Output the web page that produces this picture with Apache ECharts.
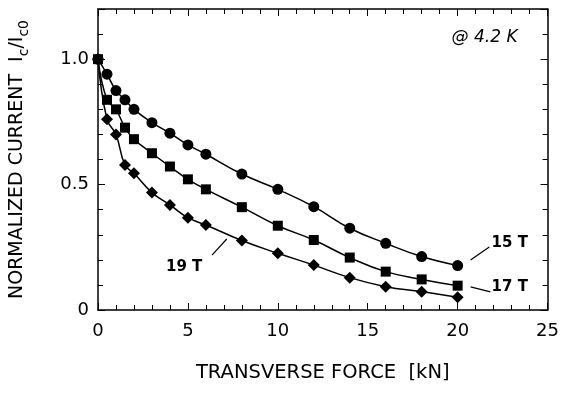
<!DOCTYPE html>
<html><head><meta charset="utf-8">
<script src="https://cdn.jsdelivr.net/npm/echarts@6/dist/echarts.min.js"></script>
<style>html,body{margin:0;padding:0;background:#fff}#c{width:562px;height:394px}</style>
</head><body><div id="c"></div>
<script>
const forces = [0, 0.5, 1, 1.5, 2, 3, 4, 5, 6, 8, 10, 12, 14, 16, 18, 20];
const ic15T = [1.0, 0.94, 0.875, 0.838, 0.80, 0.747, 0.705, 0.658, 0.621, 0.542, 0.481, 0.412, 0.326, 0.266, 0.213, 0.177];
const ic17T = [1.0, 0.838, 0.80, 0.727, 0.681, 0.625, 0.572, 0.521, 0.481, 0.410, 0.336, 0.279, 0.209, 0.153, 0.122, 0.097];
const ic19T = [1.0, 0.76, 0.70, 0.578, 0.545, 0.468, 0.419, 0.368, 0.339, 0.277, 0.226, 0.179, 0.129, 0.093, 0.073, 0.051];
const xTicks = [0, 5, 10, 15, 20, 25];
const yTickLabels = {0: '0', 0.5: '0.5', 1: '1.0'};
// annotation labels [x, y] in data units, and leader segments
const labelTexts = ['15 T', '17 T', '19 T'];
const labelPos = [[22.9, 0.267], [22.9, 0.092], [4.79, 0.172]];
const leaders = [[[20.72, 0.199], [21.76, 0.251]], [[20.72, 0.092], [21.82, 0.072]], [[6.34, 0.219], [7.16, 0.283]]];
const tempText = '@ 4.2 K';
const tempPos = [21.5, 1.085];

const FONT = 'DejaVu Sans, Liberation Sans, Arial, sans-serif';
const pair = (ys) => forces.map((f, i) => [f, ys[i]]);
const curve = (name, ys, sym, size) => ({
  name, type: 'line', data: pair(ys), smooth: 0.45, symbol: sym, symbolSize: size,
  lineStyle: {color: '#000', width: 1.5}, itemStyle: {color: '#000'}, z: 3
});
const series = [
  curve('15 T', ic15T, 'circle', 11),
  curve('17 T', ic17T, 'rect', 10),
  curve('19 T', ic19T, 'diamond', 12)
];
leaders.forEach(seg => series.push({type: 'line', data: seg, symbol: 'none', lineStyle: {color: '#000', width: 1.2}, silent: true}));
series.push({
  type: 'scatter', symbolSize: 0, silent: true, itemStyle: {opacity: 1},
  data: labelPos.map((p, i) => ({value: p, label: {show: true, formatter: labelTexts[i]}})),
  label: {position: 'inside', color: '#000', opacity: 1, fontFamily: FONT, fontSize: 15, fontWeight: 'bold'}
});
series.push({
  type: 'scatter', symbolSize: 0, silent: true, itemStyle: {opacity: 1},
  data: [{value: tempPos, label: {show: true, formatter: tempText}}],
  label: {position: 'inside', color: '#000', opacity: 1, fontFamily: FONT, fontSize: 17, fontStyle: 'italic'}
});

const axLine = {show: true, onZero: false, lineStyle: {color: '#000', width: 1.5}};
const tick = {show: true, inside: true, length: 7, lineStyle: {color: '#000', width: 1}};
const minor = {show: true, splitNumber: 5, length: 5, lineStyle: {color: '#000', width: 1}};
const option = {
  animation: false,
  grid: {left: 96, right: 12, top: 9, bottom: 84, show: false},
  xAxis: [{
    type: 'value', min: 0, max: 25, interval: 5, position: 'bottom',
    axisLine: axLine, splitLine: {show: false}, axisTick: tick, minorTick: minor,
    axisLabel: {color: '#000', fontFamily: FONT, fontSize: 18, margin: 12,
      formatter: v => xTicks.includes(v) ? String(v) : ''},
    name: 'TRANSVERSE FORCE  [kN]', nameLocation: 'middle', nameGap: 53,
    nameTextStyle: {color: '#000', fontFamily: FONT, fontSize: 19.5}
  }, {
    type: 'value', min: 0, max: 25, interval: 5, position: 'top',
    axisLine: axLine, splitLine: {show: false}, axisLabel: {show: false},
    axisTick: tick, minorTick: minor
  }],
  yAxis: [{
    type: 'value', min: 0, max: 1.2, interval: 0.5, position: 'left',
    axisLine: axLine, splitLine: {show: false}, axisTick: tick, minorTick: minor,
    axisLabel: {color: '#000', fontFamily: FONT, fontSize: 18, margin: 9,
      formatter: v => (yTickLabels[v] !== undefined ? yTickLabels[v] : '')},
    name: '{m|NORMALIZED CURRENT  I}{s|c}{m|/I}{s|c0}', nameLocation: 'middle', nameGap: 67, nameRotate: 90,
    nameTextStyle: {color: '#000', fontFamily: FONT, fontSize: 19,
      rich: {m: {fontFamily: FONT, fontSize: 19, color: '#000', lineHeight: 23, verticalAlign: 'top'},
             s: {fontFamily: FONT, fontSize: 14, color: '#000', lineHeight: 23, verticalAlign: 'bottom', padding: [9, 0, 0, 0]}}}
  }, {
    type: 'value', min: 0, max: 1.2, interval: 0.5, position: 'right',
    axisLine: axLine, splitLine: {show: false}, axisLabel: {show: false},
    axisTick: tick, minorTick: minor
  }],
  series
};
const chart = echarts.init(document.getElementById('c'), null, {renderer: 'canvas'});
chart.setOption(option);
</script></body></html>
